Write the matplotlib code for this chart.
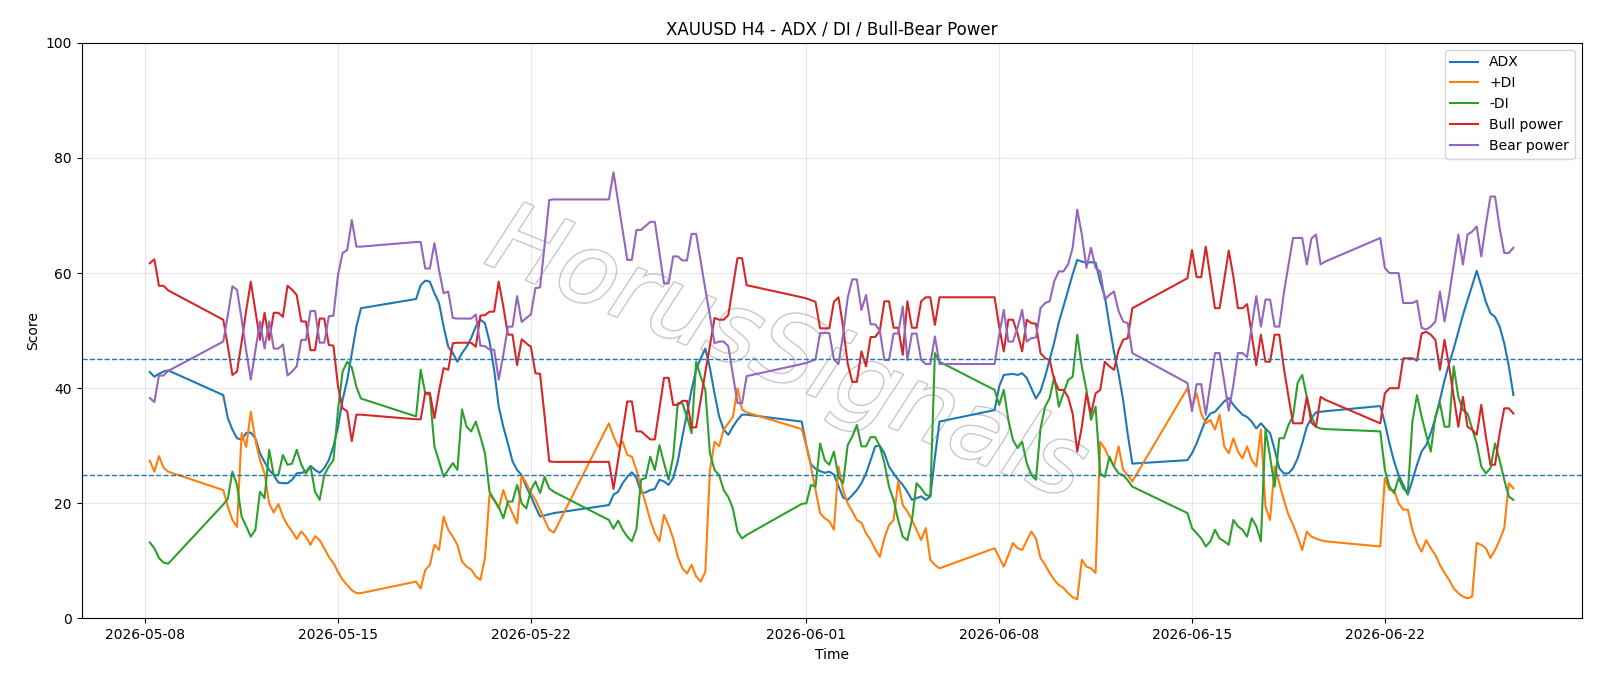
import pandas as pd
import matplotlib.pyplot as plt
import matplotlib.patheffects as pe

# H4 sessions (start of each trading block, number of bars)
sessions = [("2026-05-08 04:00", 5), ("2026-05-10 20:00", 31), ("2026-05-17 20:00", 31),
            ("2026-05-24 20:00", 31), ("2026-05-31 20:00", 31), ("2026-06-07 20:00", 31),
            ("2026-06-14 20:00", 31), ("2026-06-21 20:00", 30)]

adx = [42.8, 42.0, 42.5, 42.9, 43.1,
       38.8, 34.8, 32.8, 31.3, 31.1, 32.2, 32.3, 31.3, 28.7, 27.2, 25.8, 24.9, 23.6, 23.5, 23.5, 24.1,
       25.2, 25.3, 25.5, 26.5, 25.8, 25.3, 26.1, 27.5, 29.9, 33.3, 38.0, 41.4, 46.1, 50.7, 53.9,
       55.5, 57.9, 58.7, 58.5, 56.5, 54.8, 50.7, 47.2, 46.1, 44.6, 46.1, 47.2, 48.7, 50.7, 51.9, 51.3,
       48.1, 43.2, 36.8, 33.3, 30.4, 27.3, 25.8, 24.9, 22.9, 21.2, 19.4, 17.7, 17.9, 18.1, 18.3,
       19.7, 21.5, 22.0, 23.5, 24.6, 25.4, 24.4, 21.8, 21.9, 22.3, 22.5, 24.1, 23.8, 23.2, 24.4, 27.3,
       31.6, 35.6, 39.7, 43.2, 45.2, 46.9, 43.5, 39.1, 35.1, 32.8, 31.9, 33.3, 34.5, 35.4, 35.4,
       34.2, 30.0, 26.8, 26.0, 25.6, 25.3, 25.5, 25.0, 23.0, 21.0, 20.6, 21.4, 22.3, 23.5, 25.2, 27.5,
       29.9, 30.0, 28.7, 26.4, 25.2, 24.1, 23.2, 22.0, 20.6, 20.9, 21.2, 20.6, 21.2, 28.0, 34.2,
       36.2, 40.3, 42.3, 42.4, 42.5, 42.3, 42.6, 41.8, 40.0, 38.2, 39.5, 42.0, 45.0, 48.0, 51.5, 54.2,
       57.0, 59.8, 62.3, 62.0, 61.8, 61.9, 61.8, 58.5, 56.0, 51.0, 46.3, 42.5, 37.9, 32.0, 26.9,
       27.5, 28.7, 30.4, 32.5, 34.5, 35.6, 35.9, 36.8, 37.7, 38.3, 37.1, 36.2, 35.4, 35.0, 34.2, 33.0,
       33.9, 33.0, 32.2, 29.3, 26.1, 25.2, 25.2, 26.1, 27.8, 30.4, 33.3, 34.8, 35.8, 35.9, 36.0,
       36.9, 34.0, 30.4, 27.3, 24.9, 23.2, 21.5, 24.0, 26.7, 29.0, 30.1, 32.2, 34.8, 38.0, 41.4, 44.3,
       46.9, 49.8, 52.7, 55.3, 57.8, 60.4, 57.8, 55.0, 53.0, 52.4, 50.7, 47.8, 43.8, 38.8]

plus_di = [27.4, 25.5, 28.2, 26.2, 25.5,
           22.3, 19.4, 17.1, 15.9, 32.2, 29.8, 35.9, 31.0, 27.5, 25.2, 20.0, 18.4, 19.9, 17.7, 16.2, 15.1,
           13.8, 15.1, 14.2, 12.8, 14.3, 13.6, 12.2, 10.7, 9.6, 8.1, 6.7, 5.8, 4.9, 4.4, 4.4,
           6.4, 5.2, 8.4, 9.3, 12.8, 11.9, 17.7, 15.4, 14.2, 12.8, 9.9, 9.0, 8.5, 7.3, 6.7, 10.5,
           21.5, 20.6, 19.1, 22.3, 20.0, 18.3, 16.5, 24.9, 23.5, 21.8, 20.6, 18.9, 17.1, 15.4, 14.9,
           33.9, 31.6, 29.9, 30.7, 28.4, 28.1, 25.8, 22.6, 20.0, 17.1, 14.8, 13.4, 18.0, 16.2, 13.9, 10.7,
           8.7, 7.8, 9.3, 7.3, 6.4, 8.1, 25.8, 30.7, 29.9, 32.8, 33.9, 35.0, 40.0, 36.3, 35.8,
           32.9, 30.0, 26.4, 22.3, 18.3, 17.4, 16.9, 15.4, 26.4, 22.3, 20.0, 18.6, 17.1, 16.6, 14.8, 13.6,
           12.0, 10.7, 14.0, 16.2, 17.1, 23.8, 19.7, 18.6, 17.1, 15.4, 13.6, 15.7, 10.2, 9.3, 8.7,
           12.2, 10.6, 9.0, 11.0, 13.1, 12.2, 11.9, 13.5, 15.1, 13.9, 10.5, 9.3, 7.9, 6.7, 5.8, 5.3,
           4.4, 3.7, 3.3, 10.2, 9.0, 8.7, 7.9, 30.7, 29.5, 27.8, 26.4, 29.9, 25.8, 24.9, 23.8,
           40.0, 36.8, 39.1, 35.6, 33.9, 34.5, 32.8, 35.4, 29.9, 28.7, 31.3, 29.0, 27.8, 29.9, 27.5, 26.4,
           32.8, 19.4, 17.1, 26.4, 23.5, 20.6, 18.0, 16.3, 14.2, 11.9, 15.1, 14.2, 13.9, 13.6, 13.4,
           12.5, 24.4, 22.3, 22.3, 20.0, 18.9, 18.9, 15.4, 13.1, 11.6, 13.6, 12.2, 11.0, 9.3, 7.9, 6.7,
           5.2, 4.4, 3.8, 3.5, 3.8, 13.1, 12.8, 12.2, 10.5, 11.9, 13.6, 15.7, 23.5, 22.6]

minus_di = [13.2, 12.2, 10.5, 9.7, 9.5,
            19.8, 20.8, 25.5, 23.2, 17.7, 16.0, 14.2, 15.4, 22.0, 20.9, 29.3, 24.9, 24.9, 28.4, 26.7, 26.9,
            29.3, 26.7, 25.2, 26.4, 22.0, 20.6, 24.9, 26.4, 27.5, 36.2, 42.9, 44.6, 43.6, 40.2, 38.2,
            35.1, 43.2, 39.1, 38.8, 29.9, 27.3, 24.6, 25.8, 27.0, 25.8, 36.3, 33.3, 32.5, 34.2, 31.6, 28.7,
            22.0, 20.6, 19.4, 17.4, 20.3, 20.3, 23.2, 20.0, 19.1, 22.3, 23.8, 21.8, 24.6, 22.6, 22.0,
            17.1, 15.6, 17.0, 15.4, 14.2, 13.4, 15.6, 24.1, 24.4, 28.1, 25.8, 30.1, 27.0, 24.1, 28.1, 37.4,
            37.4, 35.0, 32.2, 44.6, 42.0, 39.7, 28.7, 25.8, 24.9, 22.3, 21.1, 19.1, 15.1, 13.9, 14.5,
            19.9, 20.0, 23.2, 22.9, 30.4, 27.5, 26.7, 29.0, 24.6, 23.5, 30.1, 31.6, 33.6, 29.9, 29.9, 31.5,
            31.5, 29.9, 27.0, 22.9, 20.6, 17.1, 14.2, 13.6, 17.1, 23.5, 22.6, 21.5, 21.2, 46.1, 44.6,
            39.7, 37.1, 39.7, 34.5, 31.0, 29.6, 30.7, 27.0, 24.9, 24.1, 33.0, 36.8, 38.3, 42.0, 36.8, 39.1,
            41.4, 42.0, 49.3, 43.8, 39.7, 34.5, 36.8, 25.2, 24.6, 28.1, 26.4, 25.2, 24.9, 24.0, 22.9,
            18.3, 15.7, 14.8, 13.9, 12.5, 13.4, 15.4, 13.9, 13.4, 12.8, 17.1, 16.0, 15.4, 14.2, 17.4, 16.0,
            13.4, 32.8, 28.1, 22.9, 31.3, 31.3, 33.6, 35.1, 40.9, 42.3, 38.5, 35.1, 33.3, 33.0, 32.9,
            32.5, 25.8, 22.9, 21.8, 24.4, 22.6, 21.8, 34.2, 38.8, 35.1, 31.9, 29.0, 35.1, 37.4, 33.3, 33.3,
            43.8, 38.5, 36.2, 35.6, 33.0, 30.4, 26.4, 25.2, 26.1, 30.4, 27.5, 24.1, 21.2, 20.6]

bull = [61.7, 62.4, 57.8, 57.8, 57.0,
        51.9, 47.3, 42.3, 42.9, 48.0, 53.5, 58.5, 53.5, 48.4, 53.1, 48.4, 53.1, 53.1, 52.4, 57.8, 57.1,
        56.2, 51.6, 51.6, 46.6, 46.6, 52.1, 52.1, 47.5, 47.4, 40.3, 36.5, 36.0, 30.8, 35.4, 35.4,
        34.6, 34.6, 39.2, 39.2, 34.8, 39.5, 43.5, 43.2, 47.8, 47.9, 47.9, 47.9, 47.9, 47.2, 52.6, 52.7,
        53.3, 53.3, 58.5, 54.2, 49.3, 49.3, 44.0, 48.5, 47.8, 47.2, 42.6, 42.5, 35.1, 27.3, 27.2,
        27.2, 22.5, 27.6, 32.7, 37.7, 37.7, 32.5, 32.5, 31.8, 31.1, 31.1, 36.4, 41.8, 41.8, 37.1, 37.1,
        37.8, 37.8, 33.2, 33.2, 38.0, 42.8, 47.4, 52.2, 51.9, 51.9, 52.7, 57.6, 62.6, 62.6, 57.9,
        55.8, 55.6, 55.3, 55.0, 50.4, 50.4, 50.4, 55.0, 55.8, 50.7, 44.3, 41.1, 41.1, 46.4, 43.8, 48.9,
        48.9, 50.0, 55.1, 55.1, 50.5, 50.5, 45.8, 55.1, 50.5, 50.5, 55.1, 55.8, 55.8, 51.0, 55.8,
        55.8, 50.7, 46.4, 51.9, 51.9, 49.5, 46.4, 51.9, 51.3, 51.2, 46.1, 45.2, 44.9, 41.4, 39.7, 39.7,
        38.5, 35.6, 29.0, 33.3, 39.1, 35.6, 39.1, 39.7, 44.6, 43.8, 43.2, 46.6, 48.4, 48.7, 53.9,
        59.1, 64.0, 59.3, 59.3, 64.6, 59.3, 53.9, 53.9, 58.8, 63.9, 59.4, 53.9, 53.9, 54.6, 49.3, 44.0,
        49.3, 44.6, 44.6, 49.3, 49.3, 43.5, 38.6, 33.9, 33.9, 33.9, 38.5, 34.0, 33.3, 38.5, 38.0,
        33.9, 39.1, 40.0, 40.0, 40.0, 45.2, 45.2, 45.2, 44.8, 49.5, 49.8, 49.3, 48.4, 43.2, 48.4, 43.8,
        38.5, 33.3, 38.5, 33.3, 32.8, 31.9, 37.1, 31.6, 26.7, 26.7, 32.2, 36.5, 36.5, 35.6]

bear = [38.3, 37.6, 42.2, 42.2, 43.0,
        48.1, 52.7, 57.7, 57.1, 52.0, 46.5, 41.5, 46.5, 51.6, 46.9, 51.6, 46.9, 46.9, 47.6, 42.2, 42.9,
        43.8, 48.4, 48.4, 53.4, 53.4, 47.9, 47.9, 52.5, 52.6, 59.7, 63.5, 64.0, 69.2, 64.6, 64.6,
        65.4, 65.4, 60.8, 60.8, 65.2, 60.5, 56.5, 56.8, 52.2, 52.1, 52.1, 52.1, 52.1, 52.8, 47.4, 47.3,
        46.7, 46.7, 41.5, 45.8, 50.7, 50.7, 56.0, 51.5, 52.2, 52.8, 57.4, 57.5, 64.9, 72.7, 72.8,
        72.8, 77.5, 72.4, 67.3, 62.3, 62.3, 67.5, 67.5, 68.2, 68.9, 68.9, 63.6, 58.2, 58.2, 62.9, 62.9,
        62.2, 62.2, 66.8, 66.8, 62.0, 57.2, 52.6, 47.8, 48.1, 48.1, 47.3, 42.4, 37.4, 37.4, 42.1,
        44.2, 44.4, 44.7, 45.0, 49.6, 49.6, 49.6, 45.0, 44.2, 49.3, 55.7, 58.9, 58.9, 53.6, 56.2, 51.1,
        51.1, 50.0, 44.9, 44.9, 49.5, 49.5, 54.2, 44.9, 49.5, 49.5, 44.9, 44.2, 44.2, 49.0, 44.2,
        44.2, 49.3, 53.6, 48.1, 48.1, 50.5, 53.6, 48.1, 48.7, 48.8, 53.9, 54.8, 55.1, 58.6, 60.3, 60.3,
        61.5, 64.4, 71.0, 66.7, 60.9, 64.4, 60.9, 60.3, 55.4, 56.2, 56.8, 53.4, 51.6, 51.3, 46.1,
        40.9, 36.0, 40.7, 40.7, 35.4, 40.7, 46.1, 46.1, 41.2, 36.1, 40.6, 46.1, 46.1, 45.4, 50.7, 56.0,
        50.7, 55.4, 55.4, 50.7, 50.7, 56.5, 61.4, 66.1, 66.1, 66.1, 61.5, 66.0, 66.7, 61.5, 62.0,
        66.1, 60.9, 60.0, 60.0, 60.0, 54.8, 54.8, 54.8, 55.2, 50.5, 50.2, 50.7, 51.6, 56.8, 51.6, 56.2,
        61.5, 66.7, 61.5, 66.7, 67.2, 68.1, 62.9, 68.4, 73.3, 73.3, 67.8, 63.5, 63.5, 64.4]

times = []
for start, n in sessions:
    times.extend(pd.date_range(start, periods=n, freq="4h").to_pydatetime())

fig, ax = plt.subplots(figsize=(16, 6.86), dpi=100)
fig.subplots_adjust(left=0.051, right=0.9885, top=0.9375, bottom=0.0985)

ax.plot(times, adx, label="ADX")
ax.plot(times, plus_di, label="+DI")
ax.plot(times, minus_di, label="-DI")
ax.plot(times, bull, label="Bull power")
ax.plot(times, bear, label="Bear power")

ax.axhline(25, linestyle="--", linewidth=1, color="tab:blue")
ax.axhline(45, linestyle="--", linewidth=1, color="tab:blue")

# watermark
ax.text(0.47, 0.455, "HorusSignals", transform=ax.transAxes, fontsize=70, style="italic",
        rotation=-22, color="white", ha="center", va="center", zorder=0,
        path_effects=[pe.withStroke(linewidth=2, foreground="#c8c8c8")])

ax.set_ylim(0, 100)
ax.set_title("XAUUSD H4 - ADX / DI / Bull-Bear Power")
ax.set_xlabel("Time")
ax.set_ylabel("Score")
ax.grid(True, alpha=0.3)
ax.legend(loc="upper right")

plt.savefig("out.png")
